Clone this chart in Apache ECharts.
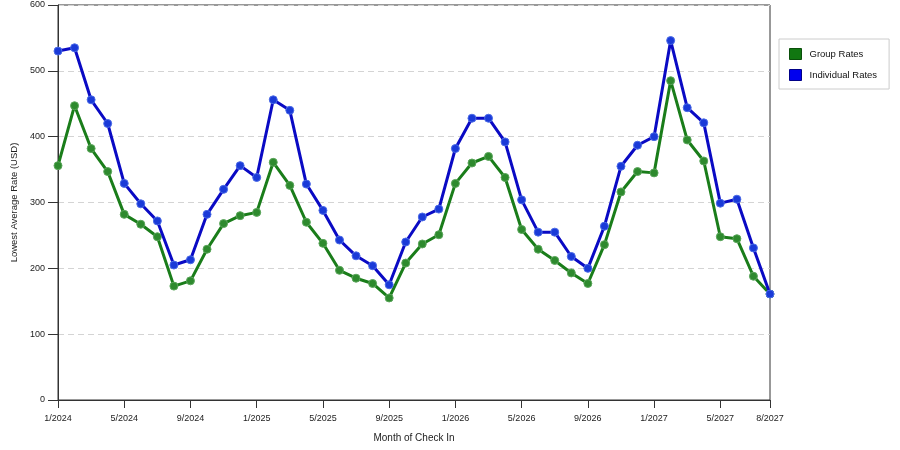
<!DOCTYPE html>
<html>
<head>
<meta charset="utf-8">
<title>Lowest Average Rate</title>
<script src="https://cdn.jsdelivr.net/npm/echarts@6/dist/echarts.min.js"></script>
<style>
  html, body { margin: 0; padding: 0; background: #fff; }
  #chart { width: 900px; height: 450px; }
</style>
</head>
<body>
<div id="chart"></div>
<script>
// months 1/2024 .. 8/2027
const months = [
  "1/2024","2/2024","3/2024","4/2024","5/2024","6/2024","7/2024","8/2024","9/2024","10/2024","11/2024","12/2024",
  "1/2025","2/2025","3/2025","4/2025","5/2025","6/2025","7/2025","8/2025","9/2025","10/2025","11/2025","12/2025",
  "1/2026","2/2026","3/2026","4/2026","5/2026","6/2026","7/2026","8/2026","9/2026","10/2026","11/2026","12/2026",
  "1/2027","2/2027","3/2027","4/2027","5/2027","6/2027","7/2027","8/2027"
]

const groupRates = [
  356, 447, 382, 347, 282, 267, 248, 173, 181, 229, 268, 280,
  285, 361, 326, 270, 238, 197, 185, 177, 155, 208, 237, 251,
  329, 360, 370, 338, 259, 229, 212, 193, 177, 236, 316, 347,
  345, 485, 395, 363, 248, 245, 188, 161
]

const individualRates = [
  530, 535, 456, 420, 329, 298, 272, 205, 213, 282, 320, 356,
  338, 456, 440, 328, 288, 243, 219, 204, 175, 240, 278, 290,
  382, 428, 428, 392, 304, 255, 255, 218, 200, 264, 355, 387,
  400, 546, 444, 421, 299, 305, 231, 161
]

const yTicks = [0, 100, 200, 300, 400, 500, 600]

;(function(){
  const chart = echarts.init(document.getElementById("chart"))
  const font = "'Liberation Sans', Arial, sans-serif"
  // label every 4th month plus the last one
  const showTick = (i) => i % 4 === 0 || i === months.length - 1

  const option = {
    animation: false,
    textStyle: { fontFamily: font },
    grid: {
      left: 58, right: 130, top: 5, bottom: 50,
      show: true, borderColor: "#333", borderWidth: 1
    },
    legend: {
      orient: "vertical",
      left: 779, top: 39,
      padding: [9, 12, 8, 10],
      itemGap: 9,
      itemWidth: 12, itemHeight: 11,
      borderColor: "#ccc", borderWidth: 1,
      icon: "rect",
      textStyle: { fontSize: 9.5, color: "#111", fontFamily: font, padding: [0, 0, 0, 3] },
      data: [
        { name: "Group Rates", itemStyle: { color: "#117711", borderColor: "#0a4f0a", borderWidth: 1 } },
        { name: "Individual Rates", itemStyle: { color: "#0000ee", borderColor: "#000088", borderWidth: 1 } }
      ]
    },
    xAxis: {
      type: "category",
      data: months,
      boundaryGap: false,
      name: "Month of Check In",
      nameLocation: "middle",
      nameGap: 33,
      nameTextStyle: { fontSize: 10, color: "#222" },
      axisLine: { lineStyle: { color: "#333", width: 1 } },
      axisTick: { interval: showTick, length: 8, lineStyle: { color: "#333" } },
      axisLabel: { interval: showTick, fontSize: 9, color: "#222", margin: 14 },
      splitLine: { show: false }
    },
    yAxis: {
      type: "value",
      min: yTicks[0], max: yTicks[yTicks.length - 1], interval: 100,
      name: "Lowest Average Rate (USD)",
      nameLocation: "middle",
      nameGap: 35,
      nameTextStyle: { fontSize: 9.5, color: "#222" },
      axisLine: { show: true, lineStyle: { color: "#333" } },
      axisTick: { show: true, length: 10, lineStyle: { color: "#333" } },
      axisLabel: { fontSize: 9, color: "#222", margin: 13 },
      splitLine: { lineStyle: { color: "#d4d4d4", type: [6, 4] } }
    },
    series: [
      {
        name: "Group Rates",
        type: "line",
        data: groupRates,
        symbol: "circle",
        symbolSize: 8,
        lineStyle: { color: "#1a7d1a", width: 3 },
        itemStyle: { color: "#2e8a2e", borderColor: "#5aa55a", borderWidth: 1 },
        z: 2
      },
      {
        name: "Individual Rates",
        type: "line",
        data: individualRates,
        symbol: "circle",
        symbolSize: 8,
        lineStyle: { color: "#0a0ac4", width: 3 },
        itemStyle: { color: "#1a3ad8", borderColor: "#4a6ae6", borderWidth: 1 },
        z: 3
      }
    ]
  }

  chart.setOption(option)
  window.addEventListener("resize", () => {
    chart.resize()
  })
})()
</script>
</body>
</html>
